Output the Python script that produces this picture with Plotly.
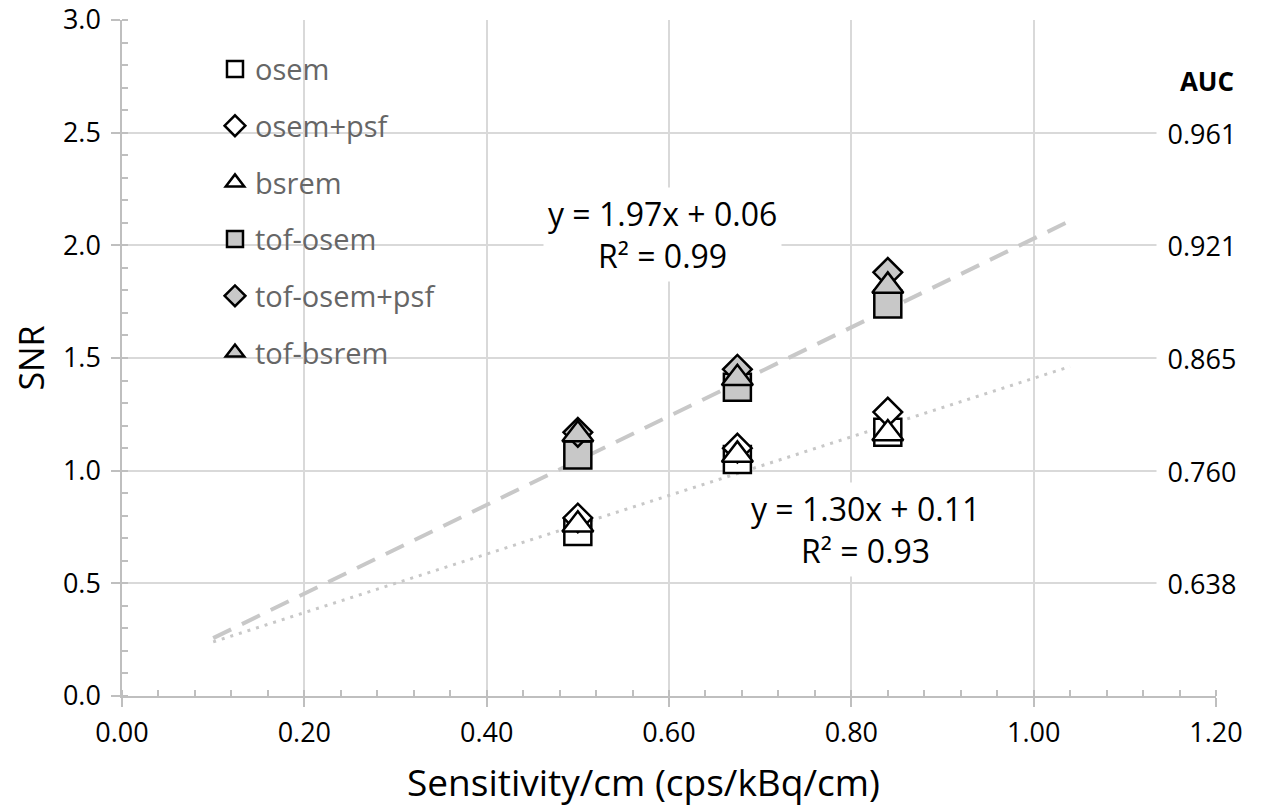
import plotly.graph_objects as go

# ---------------- data ----------------
sensitivity = [0.50, 0.675, 0.84]
series_names = ["osem", "osem+psf", "bsrem", "tof-osem", "tof-osem+psf", "tof-bsrem"]
osem = [0.73, 1.05, 1.17]
osem_psf = [0.79, 1.10, 1.26]
bsrem = [0.76, 1.07, 1.165]
tof_osem = [1.07, 1.37, 1.74]
tof_osem_psf = [1.17, 1.45, 1.88]
tof_bsrem = [1.16, 1.41, 1.82]

# trend lines (from displayed equations)
trend_x = [0.10, 1.04]
tof_slope, tof_intercept = 1.97, 0.06
non_tof_slope, non_tof_intercept = 1.30, 0.11
tof_label = "y = 1.97x + 0.06<br>R² = 0.99"
non_tof_label = "y = 1.30x + 0.11<br>R² = 0.93"

# AUC labels on the right
auc_snr = [0.5, 1.0, 1.5, 2.0, 2.5]
auc_text = ["0.638", "0.760", "0.865", "0.921", "0.961"]

x_ticks = [0.0, 0.2, 0.4, 0.6, 0.8, 1.0, 1.2]
x_title = "Sensitivity/cm (cps/kBq/cm)"
y_title = "SNR"

# ---------------- styling ----------------
FONT = "Open Sans"
GRID = "#d9d9d9"
AXIS = "#bfbfbf"
GRAYFILL = "#c8c8c8"

series_values = [osem, osem_psf, bsrem, tof_osem, tof_osem_psf, tof_bsrem]
symbols = ["square", "diamond", "triangle-up", "square", "diamond", "triangle-up"]
sizes = [27, 22, 27, 27, 22, 27]
fills = ["white", "white", "white", GRAYFILL, GRAYFILL, GRAYFILL]

fig = go.Figure()

# trend lines
fig.add_trace(go.Scatter(
    x=trend_x, y=[tof_slope * v + tof_intercept for v in trend_x],
    mode="lines", line=dict(color=GRAYFILL, width=4, dash="20px,12px"),
    showlegend=False, hoverinfo="skip"))
fig.add_trace(go.Scatter(
    x=trend_x, y=[non_tof_slope * v + non_tof_intercept for v in trend_x],
    mode="lines", line=dict(color=GRAYFILL, width=3, dash="3px,6px"),
    showlegend=False, hoverinfo="skip"))

for name, vals, sym, sz, fc in zip(series_names, series_values, symbols, sizes, fills):
    fig.add_trace(go.Scatter(
        x=sensitivity, y=vals, mode="markers", name=name, legendgroup=name,
        marker=dict(symbol=sym, size=sz, color=fc, line=dict(color="black", width=2.5)),
    ))

annotations = []
for yv, t in zip(auc_snr, auc_text):
    annotations.append(dict(
        x=1.2, y=yv, xref="x", yref="y", text=t, showarrow=False,
        xanchor="center", yanchor="middle", xshift=-14,
        font=dict(family=FONT, size=27, color="black"),
        bgcolor="white", borderpad=6, width=78, height=34))
annotations.append(dict(
    x=1.2, y=2.73, xref="x", yref="y", text="<b>AUC</b>", showarrow=False,
    xanchor="center", yanchor="middle", xshift=-9,
    font=dict(family=FONT, size=26, color="black"),
    bgcolor="white", borderpad=6, width=70, height=34))
annotations.append(dict(
    x=0.593, y=2.05, xref="x", yref="y", text=tof_label, showarrow=False,
    xanchor="center", yanchor="middle",
    font=dict(family=FONT, size=32, color="black"),
    bgcolor="white", borderpad=4))
annotations.append(dict(
    x=0.815, y=0.737, xref="x", yref="y", text=non_tof_label, showarrow=False,
    xanchor="center", yanchor="middle",
    font=dict(family=FONT, size=32, color="black"),
    bgcolor="white", borderpad=4))
# x-axis title (placed as in the reference, slightly left of plot centre)
annotations.append(dict(
    x=0.477, y=-0.127, xref="paper", yref="paper", text=x_title, showarrow=False,
    xanchor="center", yanchor="middle",
    font=dict(family=FONT, size=37, color="black")))

axis_common = dict(
    showgrid=True, gridcolor=GRID, gridwidth=1.5,
    showline=True, linecolor=AXIS, linewidth=1.5,
    ticks="outside", ticklen=9, tickcolor=AXIS, tickwidth=1.5,
    zeroline=False, automargin=False,
    tickfont=dict(family=FONT, size=27, color="black"),
)

fig.update_layout(
    width=1263, height=810,
    margin=dict(l=122, r=47, t=20, b=114),
    paper_bgcolor="white", plot_bgcolor="white",
    font=dict(family=FONT, color="black"),
    xaxis=dict(
        range=[0, 1.2], tickvals=x_ticks, tickformat=".2f", ticklabelstandoff=3,
        minor=dict(dtick=0.04, tick0=0, ticks="inside", ticklen=6, tickcolor=AXIS, tickwidth=1.5, showgrid=False),
        **axis_common),
    yaxis=dict(
        range=[0, 3], dtick=0.5, tick0=0, tickformat=".1f", ticklabelstandoff=5,
        minor=dict(dtick=0.1, tick0=0, ticks="inside", ticklen=6, tickcolor=AXIS, tickwidth=1.5, showgrid=False),
        title=dict(text=y_title, font=dict(family=FONT, size=34, color="black"), standoff=8),
        **axis_common),
    legend=dict(
        x=0.085, y=0.965, xanchor="left", yanchor="top",
        bgcolor="rgba(255,255,255,0)",
        font=dict(family=FONT, size=29, color="#666666"),
        tracegroupgap=16, itemsizing="trace",
    ),
    annotations=annotations,
    showlegend=True,
)

fig.write_html("out.html")
